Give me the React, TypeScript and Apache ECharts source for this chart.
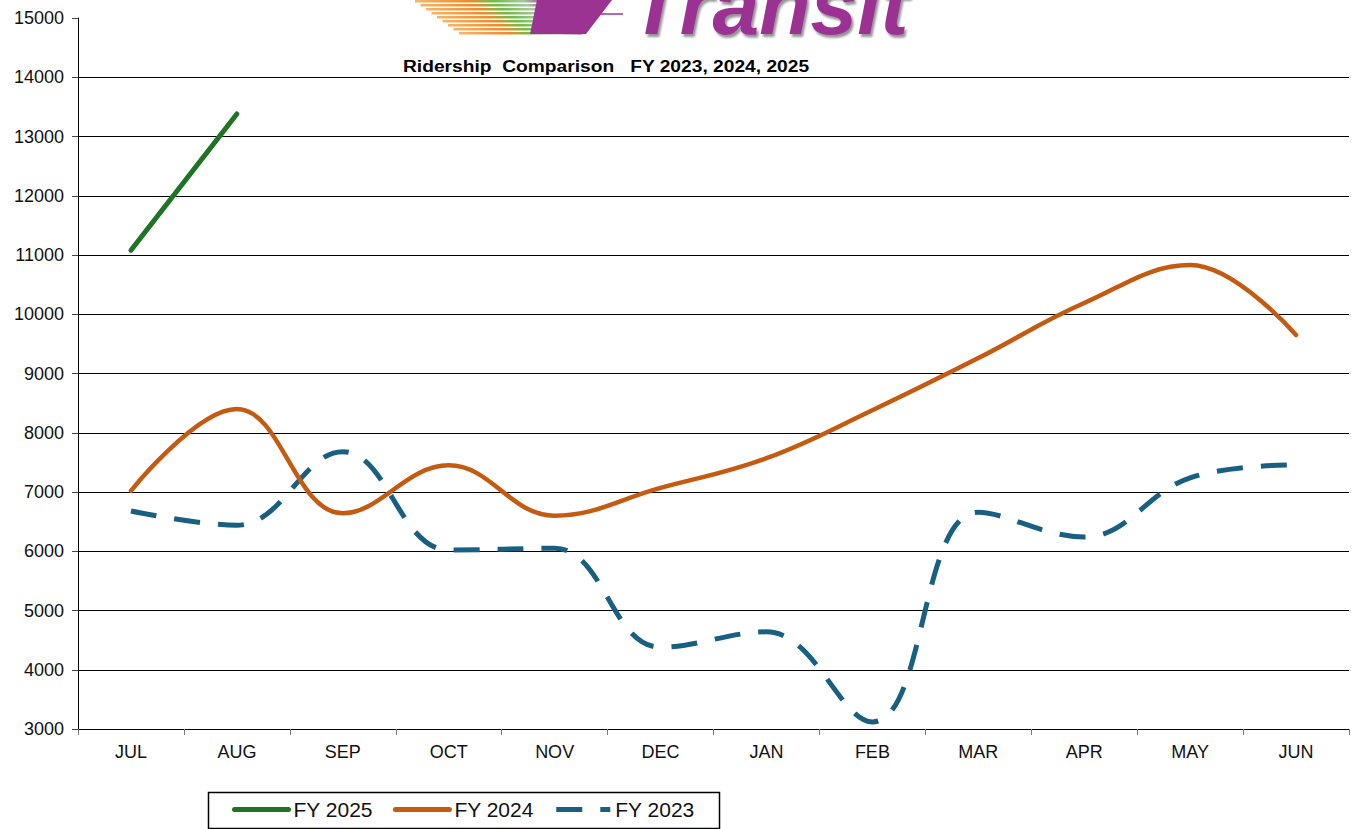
import React, { useEffect, useRef } from "react";
import * as echarts from "echarts";

const months = ["JUL", "AUG", "SEP", "OCT", "NOV", "DEC", "JAN", "FEB", "MAR", "APR", "MAY", "JUN"];
const fy2025 = [11080, 13380, null, null, null, null, null, null, null, null, null, null];
const fy2024 = [7020, 8400, 6640, 7450, 6600, 7070, 7570, 8380, 9260, 10190, 10830, 9650];
const fy2023 = [6680, 6440, 7680, 6020, 6050, 4380, 4640, 3120, 6660, 6240, 7240, 7460];
const seriesNames = ["FY 2025", "FY 2024", "FY 2023"];
const titleText = "Ridership  Comparison   FY 2023, 2024, 2025";
const logoText = "Transit";

const stripeYs = [0, 4, 8, 12, 16, 20, 24, 28, 32];

export default function App() {
  const ref = useRef<HTMLDivElement>(null);
  useEffect(() => {
    if (!ref.current) return;
    const chart = echarts.init(ref.current, null, { renderer: "svg" });
    const font = "Arial, 'Liberation Sans', sans-serif";
    const stripes = stripeYs.map((y, i) => ({
      type: "rect",
      shape: { x: 415 + i * 5.5, y: y, width: 135 - i * 1.5, height: 2.5 },
      style: {
        fill: new echarts.graphic.LinearGradient(0, 0, 1, 0, [
          { offset: 0, color: "#F6B56A" },
          { offset: 0.4, color: "#F08A2C" },
          { offset: 0.58, color: "#6DBE45" },
          { offset: 0.8, color: "#A9C8A0" },
          { offset: 1, color: "#9B3393" },
        ]),
      },
      z: 10,
    }));
    chart.setOption({
      animation: false,
      backgroundColor: "#ffffff",
      grid: { left: 78, right: 3, top: 18, bottom: 100, containLabel: false },
      xAxis: {
        type: "category",
        data: months,
        boundaryGap: true,
        axisLine: { lineStyle: { color: "#000", width: 1 } },
        axisTick: { show: true, inside: false, length: 6, lineStyle: { color: "#777" } },
        axisLabel: { color: "#111", fontSize: 18, fontFamily: font, margin: 14 },
        splitLine: { show: false },
      },
      yAxis: {
        type: "value",
        min: 3000,
        max: 15000,
        interval: 1000,
        axisLine: { show: true, lineStyle: { color: "#000", width: 1 } },
        axisTick: { show: true, length: 6, lineStyle: { color: "#444" } },
        axisLabel: { color: "#111", fontSize: 18, fontFamily: font, margin: 14, formatter: (v: number) => String(v) },
        splitLine: { show: true, showMaxLine: false, showMinLine: false, lineStyle: { color: "#000", width: 1 } },
      },
      legend: {
        show: true,
        left: 227,
        top: 794,
        itemWidth: 54,
        itemHeight: 8,
        itemGap: 20,
        itemStyle: { opacity: 0 },
        lineStyle: { width: 5 },
        textStyle: { color: "#111", fontSize: 21, fontFamily: font },
        data: seriesNames,
      },
      series: [
        {
          name: seriesNames[0],
          type: "line",
          data: fy2025,
          smooth: 0.4,
          symbol: "none",
          lineStyle: { color: "#1E7424", width: 5, cap: "round" },
          itemStyle: { color: "#1E7424" },
          z: 4,
        },
        {
          name: seriesNames[1],
          type: "line",
          data: fy2024,
          smooth: 0.4,
          symbol: "none",
          lineStyle: { color: "#C55A11", width: 4.5, cap: "round" },
          itemStyle: { color: "#C55A11" },
          z: 3,
        },
        {
          name: seriesNames[2],
          type: "line",
          data: fy2023,
          smooth: 0.4,
          symbol: "none",
          lineStyle: { color: "#195F82", width: 5, type: [26, 18] },
          itemStyle: { color: "#195F82" },
          z: 2,
        },
      ],
      graphic: [
        ...stripes,
        {
          type: "polygon",
          shape: { points: [[537, 0], [612, 0], [586, 34], [530, 34]] },
          style: { fill: "#9B3393" },
          z: 11,
        },
        {
          type: "line",
          shape: { x1: 598, y1: 14, x2: 623, y2: 14 },
          style: { stroke: "#9B3393", lineWidth: 1.5 },
          z: 11,
        },
        {
          type: "text",
          x: 630,
          y: 47,
          style: {
            text: logoText,
            fill: "#9B3393",
            font: "italic bold 84px Arial, 'Liberation Sans', sans-serif",
            textVerticalAlign: "bottom",
            textAlign: "left",
            textShadowColor: "rgba(80,80,80,0.6)",
            textShadowOffsetX: 2,
            textShadowOffsetY: 3,
            textShadowBlur: 2,
          },
          z: 12,
        },
        {
          type: "text",
          x: 403,
          y: 58,
          scaleX: 1.13,
          style: {
            text: titleText,
            fill: "#000",
            font: "bold 17px Arial, 'Liberation Sans', sans-serif",
          },
          z: 12,
        },
        {
          type: "rect",
          shape: { x: 208.5, y: 792.5, width: 511, height: 36 },
          style: { fill: "none", stroke: "#000", lineWidth: 1.5 },
          z: 1,
        },
      ],
    });
    return () => chart.dispose();
  }, []);
  return <div ref={ref} style={{ position: "fixed", left: 0, top: 0, width: 1352, height: 829 }} />;
}
